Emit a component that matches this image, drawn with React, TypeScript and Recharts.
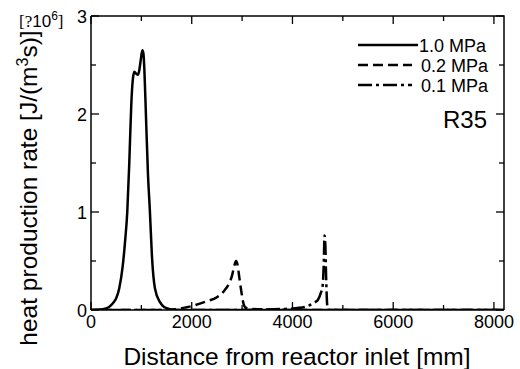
import React from 'react';
import { LineChart, Line, XAxis, YAxis, Legend, Label } from 'recharts';

// Distance from reactor inlet [mm] and heat production rate [x10^6 J/(m3 s)]
const dist10 = [0, 200, 300, 400, 450, 500, 560, 630, 680, 720, 760, 800, 830, 860, 900, 930, 960, 990, 1020, 1040, 1060, 1090, 1130, 1170, 1210, 1270, 1370, 1450, 1550, 1700, 8200];
const rate10 = [0, 0.005, 0.015, 0.05, 0.08, 0.12, 0.22, 0.45, 0.72, 1.0, 1.5, 2.1, 2.35, 2.43, 2.41, 2.4, 2.45, 2.56, 2.65, 2.62, 2.45, 2.0, 1.4, 1.0, 0.55, 0.22, 0.08, 0.03, 0.01, 0, 0];

const dist02 = [0, 1500, 1700, 2000, 2300, 2500, 2650, 2750, 2800, 2840, 2880, 2910, 2940, 2970, 3000, 3030, 3080, 3200, 3600, 4000, 8200];
const rate02 = [0, 0, 0.01, 0.04, 0.09, 0.13, 0.2, 0.28, 0.35, 0.44, 0.5, 0.46, 0.35, 0.24, 0.14, 0.06, 0.02, 0.01, 0.005, 0, 0];

const dist01 = [0, 3000, 3500, 3800, 4000, 4100, 4300, 4450, 4500, 4560, 4600, 4620, 4637, 4650, 4670, 4690, 4710, 8200];
const rate01 = [0, 0, 0.005, 0.01, 0.015, 0.02, 0.04, 0.08, 0.1, 0.17, 0.25, 0.45, 0.76, 0.7, 0.3, 0.05, 0, 0];

const seriesNames = ['1.0 MPa', '0.2 MPa', '0.1 MPa'];
const seriesDash = ['', '10 5', '14 4 3 4'];

const xTicks = [0, 1000, 2000, 3000, 4000, 5000, 6000, 7000, 8000];
const yTicks = [0, 0.5, 1, 1.5, 2, 2.5, 3];
const xDomain = [0, 8200];
const yDomain = [0, 3];

const toPoints = (xs: number[], ys: number[]) => xs.map((x, i) => ({ x, y: ys[i] }));
const seriesData = [toPoints(dist10, rate10), toPoints(dist02, rate02), toPoints(dist01, rate01)];

const FONT = "'Liberation Sans', Arial, sans-serif";
const SERIF = "'Liberation Serif', 'Times New Roman', serif";

const W = 520;
const H = 369;
const MARGIN = { top: 16, right: 16, bottom: 29, left: 51 };
const PLOT_TOP = MARGIN.top;
const PLOT_RIGHT = W - MARGIN.right;

const XTick = (props: any) => {
  const { x, y, payload } = props;
  const v = payload.value as number;
  const major = v % 2000 === 0;
  const len = major ? 8 : 5;
  return (
    <g>
      <line x1={x} x2={x} y1={y} y2={y - len} stroke="#000" strokeWidth={1.3} />
      <line x1={x} x2={x} y1={PLOT_TOP} y2={PLOT_TOP + len} stroke="#000" strokeWidth={1.3} />
      {major && (
        <text x={x} y={y + 18} textAnchor="middle" fontFamily={FONT} fontSize={18} fill="#000">
          {v}
        </text>
      )}
    </g>
  );
};

const YTick = (props: any) => {
  const { x, y, payload } = props;
  const v = payload.value as number;
  const major = Number.isInteger(v);
  const len = major ? 8 : 5;
  return (
    <g>
      <line x1={x} x2={x + len} y1={y} y2={y} stroke="#000" strokeWidth={1.3} />
      <line x1={PLOT_RIGHT} x2={PLOT_RIGHT - len} y1={y} y2={y} stroke="#000" strokeWidth={1.3} />
      {major && (
        <text x={x - 4} y={y + 6.5} textAnchor="end" fontFamily={FONT} fontSize={18} fill="#000">
          {v}
        </text>
      )}
    </g>
  );
};

const LegendContent = () => (
  <svg width={160} height={70} style={{ display: 'block', overflow: 'visible' }}>
    {seriesNames.map((n, i) => (
      <g key={n}>
        <line x1={3} x2={i === 0 ? 63 : 57} y1={12 + i * 20} y2={12 + i * 20} stroke="#000" strokeWidth={2.5}
          strokeDasharray={seriesDash[i] || undefined} />
        <text x={i === 0 ? 64 : 66} y={18.5 + i * 20} fontFamily={FONT} fontSize={18} fill="#000">{n}</text>
      </g>
    ))}
  </svg>
);

const LeftTitle = () => (
  <g>
    <text transform="rotate(-90, 37, 188)" x={37} y={188} textAnchor="middle" fontFamily={FONT} fontSize={24.5} fill="#000">
      heat production rate [J/(m<tspan fontSize={16} dy={-9}>3</tspan><tspan dy={9}>s)]</tspan>
    </text>
    <text x={19} y={27} fontSize={17} fill="#000">
      <tspan fontFamily={SERIF}>[?</tspan>
      <tspan fontFamily={FONT}>10</tspan>
      <tspan fontFamily={FONT} fontSize={12} dy={-7}>6</tspan>
      <tspan fontFamily={SERIF} dy={7}>]</tspan>
    </text>
  </g>
);

// bottom-axis label: axis title, frame (top/right edges) and the R35 note
const BottomLabel = (props: any) => {
  const vb = props.viewBox || { x: MARGIN.left + 40, y: H - MARGIN.bottom - 30, width: PLOT_RIGHT - MARGIN.left - 40 };
  const left = vb.x;
  const right = vb.x + vb.width;
  const bottom = vb.y;
  return (
    <g>
      <polyline points={`${left},${PLOT_TOP} ${right},${PLOT_TOP} ${right},${bottom}`} fill="none" stroke="#000" strokeWidth={1.5} />
      <text x={297} y={365} textAnchor="middle" fontFamily={FONT} fontSize={24.5} fill="#000">
        Distance from reactor inlet [mm]
      </text>
      <text x={487} y={128} textAnchor="end" fontFamily={FONT} fontSize={24} fill="#000">R35</text>
    </g>
  );
};

export default function App() {
  return (
    <div style={{ position: 'absolute', left: 0, top: 0, width: W, height: H, background: '#fff' }}>
      <LineChart width={W} height={H} margin={MARGIN}>
        <XAxis xAxisId="b" dataKey="x" type="number" domain={xDomain} ticks={xTicks} interval={0}
          orientation="bottom" height={30} tickSize={0} tickMargin={0} tickLine={false}
          axisLine={{ stroke: '#000', strokeWidth: 1.5 }} tick={<XTick />} allowDataOverflow>
          <Label content={(p: any) => <BottomLabel {...p} />} />
        </XAxis>
        <YAxis yAxisId="l" type="number" domain={yDomain} ticks={yTicks} interval={0}
          orientation="left" width={40} tickSize={0} tickMargin={0} tickLine={false}
          axisLine={{ stroke: '#000', strokeWidth: 1.5 }} tick={<YTick />} allowDataOverflow>
          <Label content={() => <LeftTitle />} />
        </YAxis>
        {seriesData.map((d, i) => (
          <Line key={seriesNames[i]} data={d} dataKey="y" name={seriesNames[i]} xAxisId="b" yAxisId="l"
            type="monotone" stroke="#000" strokeWidth={2.5} strokeDasharray={seriesDash[i] || undefined}
            dot={false} activeDot={false} isAnimationActive={false} />
        ))}
        <Legend content={() => <LegendContent />}
          wrapperStyle={{ position: 'absolute', left: 355, top: 33, width: 0, height: 0, overflow: 'visible' }} />
      </LineChart>
    </div>
  );
}
